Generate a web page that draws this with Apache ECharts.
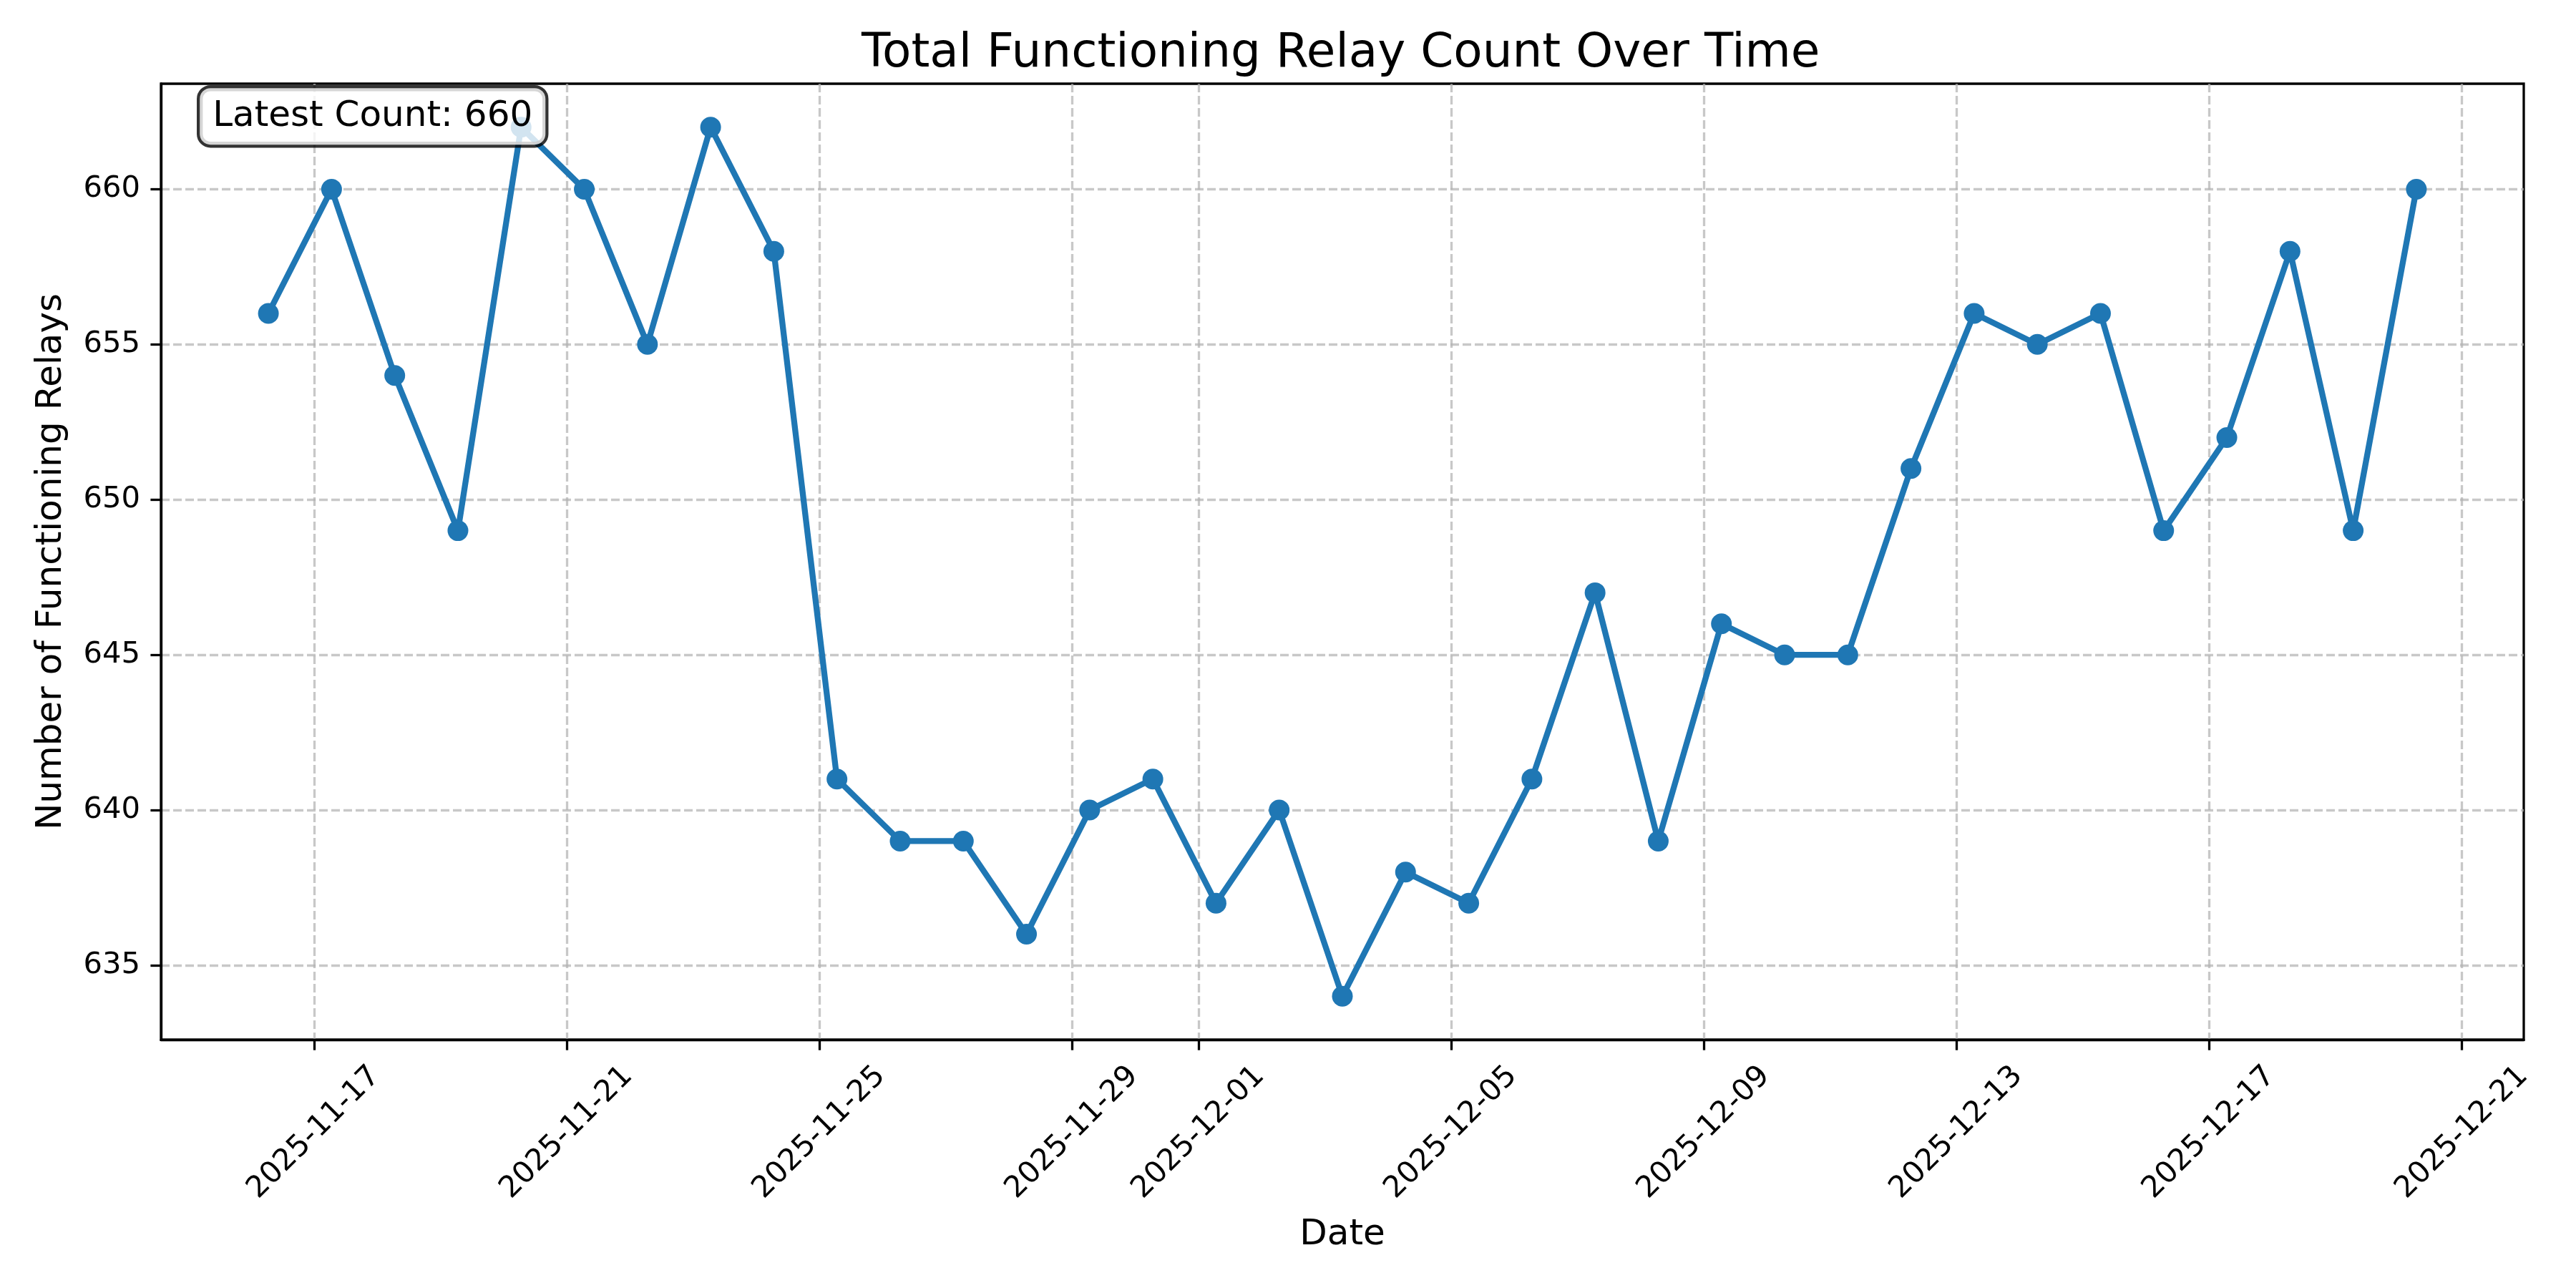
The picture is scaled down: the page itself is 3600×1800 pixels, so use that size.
<!DOCTYPE html>
<html>
<head>
<meta charset="utf-8">
<script src="https://cdn.jsdelivr.net/npm/echarts@6/dist/echarts.min.js"></script>
<style>
  html, body { margin: 0; padding: 0; background: #fff; }
  #chart { width: 3600px; height: 1800px; }
</style>
</head>
<body>
<div id="chart"></div>
<script>
// one reading per day, taken in the early morning
const dates = [
  '2025-11-16T06:40:00', '2025-11-17T06:40:00', '2025-11-18T06:40:00', '2025-11-19T06:40:00',
  '2025-11-20T06:40:00', '2025-11-21T06:40:00', '2025-11-22T06:40:00', '2025-11-23T06:40:00',
  '2025-11-24T06:40:00', '2025-11-25T06:40:00', '2025-11-26T06:40:00', '2025-11-27T06:40:00',
  '2025-11-28T06:40:00', '2025-11-29T06:40:00', '2025-11-30T06:40:00', '2025-12-01T06:40:00',
  '2025-12-02T06:40:00', '2025-12-03T06:40:00', '2025-12-04T06:40:00', '2025-12-05T06:40:00',
  '2025-12-06T06:40:00', '2025-12-07T06:40:00', '2025-12-08T06:40:00', '2025-12-09T06:40:00',
  '2025-12-10T06:40:00', '2025-12-11T06:40:00', '2025-12-12T06:40:00', '2025-12-13T06:40:00',
  '2025-12-14T06:40:00', '2025-12-15T06:40:00', '2025-12-16T06:40:00', '2025-12-17T06:40:00',
  '2025-12-18T06:40:00', '2025-12-19T06:40:00', '2025-12-20T06:40:00'
];
const relayCounts = [
  656, 660, 654, 649, 662, 660, 655, 662, 658, 641,
  639, 639, 636, 640, 641, 637, 640, 634, 638, 637,
  641, 647, 639, 646, 645, 645, 651, 656, 655, 656,
  649, 652, 658, 649, 660
];
const xTicks = [
  '2025-11-17T00:00:00', '2025-11-21T00:00:00', '2025-11-25T00:00:00', '2025-11-29T00:00:00',
  '2025-12-01T00:00:00', '2025-12-05T00:00:00', '2025-12-09T00:00:00', '2025-12-13T00:00:00',
  '2025-12-17T00:00:00', '2025-12-21T00:00:00'
];
const yTicks = [635, 640, 645, 650, 655, 660];

const FONT = 'DejaVu Sans';
const lineColor = '#1f77b4';

// timestamps go on a plain value axis so the custom (month-restarting) ticks work
const toTime = function (d) { return echarts.time.parse(d).getTime(); };
const seriesData = dates.map(function (d, i) { return [toTime(d), relayCounts[i]]; });
const xTickValues = xTicks.map(toTime);
const latest = relayCounts[relayCounts.length - 1];

// matplotlib style 5% margins on both axes
function padMin(ext) { return ext.min - (ext.max - ext.min) * 0.05; }
function padMax(ext) { return ext.max + (ext.max - ext.min) * 0.05; }

const gridLine = {
  show: true,
  lineStyle: { color: 'rgba(176,176,176,0.7)', width: 3.3, type: [12, 5] }
};

let chart = echarts.init(document.getElementById('chart'), null, { renderer: 'canvas' });

const chartOptions = {
  animation: false,
  backgroundColor: '#fff',
  title: {
    text: 'Total Functioning Relay Count Over Time',
    left: 1204,
    top: 43,
    padding: 0,
    textStyle: { fontFamily: FONT, fontSize: 66, fontWeight: 'normal', color: '#000' }
  },
  grid: {
    left: 225, right: 73, top: 117, bottom: 347,
    show: true,
    borderColor: '#000',
    borderWidth: 3.3,
    backgroundColor: 'transparent',
    containLabel: false,
    outerBoundsMode: 'none'
  },
  xAxis: {
    type: 'value',
    scale: true,
    min: padMin,
    max: padMax,
    name: 'Date',
    nameLocation: 'middle',
    nameGap: 248,
    nameTextStyle: { fontFamily: FONT, fontSize: 50, color: '#000' },
    axisLine: { show: true, onZero: false, lineStyle: { color: '#000', width: 3.3 } },
    axisTick: { show: true, length: 14.6, lineStyle: { color: '#000', width: 3.3 }, customValues: xTickValues },
    axisLabel: {
      customValues: xTickValues,
      rotate: 45,
      align: 'center',
      verticalAlign: 'middle',
      margin: 130,
      fontFamily: FONT,
      fontSize: 41.7,
      color: '#000',
      formatter: function (v) { return echarts.time.format(v, '{yyyy}-{MM}-{dd}', false); }
    },
    splitLine: gridLine
  },
  yAxis: {
    type: 'value',
    scale: true,
    min: padMin,
    max: padMax,
    name: 'Number of Functioning Relays',
    nameLocation: 'middle',
    nameGap: 128,
    nameTextStyle: { fontFamily: FONT, fontSize: 50, color: '#000' },
    axisLine: { show: true, onZero: false, lineStyle: { color: '#000', width: 3.3 } },
    axisTick: { show: true, length: 14.6, lineStyle: { color: '#000', width: 3.3 }, customValues: yTicks },
    axisLabel: { customValues: yTicks, margin: 29, fontFamily: FONT, fontSize: 41.7, color: '#000' },
    splitLine: gridLine
  },
  series: [
    {
      type: 'line',
      data: seriesData,
      symbol: 'circle',
      symbolSize: 29,
      z: 3,
      lineStyle: { color: lineColor, width: 8.3 },
      itemStyle: { color: lineColor, borderWidth: 0 }
    }
  ],
  graphic: [
    {
      type: 'text',
      left: 275,
      top: 119,
      z: 100,
      style: {
        text: 'Latest Count: ' + latest,
        fontFamily: FONT,
        fontSize: 50,
        lineHeight: 49,
        fill: '#000',
        backgroundColor: 'rgba(255,255,255,0.8)',
        borderColor: 'rgba(0,0,0,0.8)',
        borderWidth: 4.2,
        borderRadius: 15,
        padding: [15, 18]
      }
    }
  ]
};
chart.setOption(chartOptions);
</script>
</body>
</html>
